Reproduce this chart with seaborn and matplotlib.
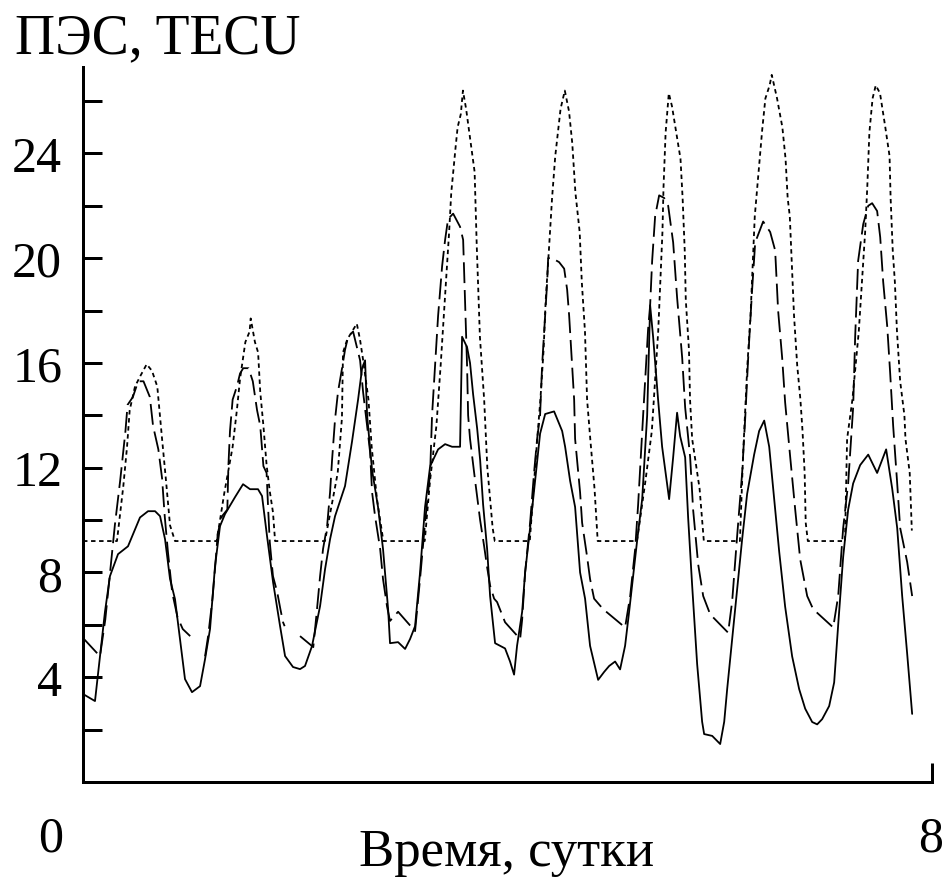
import numpy as np
import pandas as pd
import matplotlib
matplotlib.use("Agg")
import matplotlib.pyplot as plt
import seaborn as sns

# ---------------- data (days, TECU) ----------------
solid_day = [0, 0.113, 0.16, 0.207, 0.254, 0.33, 0.424, 0.537, 0.613, 0.679, 0.726, 0.773, 0.82, 0.867,
             0.914, 0.961, 1.027, 1.103, 1.15, 1.197, 1.244, 1.291, 1.338, 1.433, 1.508, 1.574, 1.649,
             1.687, 1.734, 1.791, 1.857, 1.904, 1.979, 2.045, 2.092, 2.158, 2.234, 2.281, 2.328, 2.375,
             2.469, 2.535, 2.592, 2.63, 2.658, 2.677, 2.724, 2.78, 2.827, 2.875, 2.893, 2.969, 3.035,
             3.082, 3.129, 3.176, 3.223, 3.271, 3.346, 3.412, 3.478, 3.553, 3.572, 3.619, 3.647, 3.676,
             3.714, 3.742, 3.77, 3.808, 3.836, 3.883, 3.977, 4.024, 4.062, 4.09, 4.138, 4.166, 4.213,
             4.26, 4.307, 4.355, 4.439, 4.515, 4.543, 4.59, 4.637, 4.684, 4.731, 4.778, 4.854, 4.91,
             4.958, 5.014, 5.061, 5.108, 5.146, 5.174, 5.221, 5.269, 5.316, 5.344, 5.372, 5.419, 5.457,
             5.523, 5.561, 5.598, 5.627, 5.674, 5.702, 5.74, 5.787, 5.834, 5.853, 5.929, 6.004, 6.042,
             6.07, 6.117, 6.164, 6.211, 6.258, 6.324, 6.371, 6.419, 6.466, 6.513, 6.56, 6.616, 6.682,
             6.748, 6.805, 6.871, 6.918, 6.965, 7.031, 7.078, 7.116, 7.163, 7.21, 7.257, 7.323, 7.399,
             7.483, 7.568, 7.625, 7.672, 7.719, 7.766, 7.813]
solid_tec = [3.36, 3.09, 4.8, 6.5, 7.86, 8.7, 9.0, 10.1, 10.34, 10.34, 10.15, 9.27, 7.75, 6.98,
             5.46, 3.93, 3.43, 3.66, 4.69, 5.84, 8.24, 9.77, 10.23, 10.88, 11.37, 11.18, 11.18,
             10.92, 9.39, 7.63, 5.95, 4.81, 4.39, 4.31, 4.43, 5.19, 6.72, 8.13, 9.27, 10.15,
             11.3, 13.0, 14.6, 15.8, 16.1, 14.0, 11.9, 10.5, 8.9, 6.6, 5.3, 5.34, 5.08,
             5.46, 5.95, 8.0, 10.5, 12.06, 12.7, 12.9, 12.8, 12.8, 17.0, 16.6, 16.0, 14.8,
             13.5, 12.3, 10.6, 8.9, 7.1, 5.3, 5.1, 4.6, 4.1, 5.2, 6.5, 8.0, 9.7,
             11.5, 13.3, 14.05, 14.15, 13.4, 12.8, 11.5, 10.5, 8.0, 7.0, 5.2, 3.9, 4.2,
             4.43, 4.6, 4.3, 5.2, 6.5, 7.5, 9.2, 10.8, 14.0, 18.2, 17.0, 14.6, 12.8,
             10.8, 12.4, 14.1, 13.2, 12.4, 10.1, 7.5, 4.5, 2.3, 1.83, 1.76, 1.45, 2.3,
             3.55, 5.46, 7.37, 9.27, 11.0, 12.5, 13.4, 13.8, 12.8, 10.8, 8.8, 6.7, 4.8,
             3.55, 2.8, 2.29, 2.2, 2.4, 2.9, 3.8, 6.0, 8.6, 10.4, 11.4, 12.1, 12.5,
             11.8, 12.7, 11.2, 9.7, 7.1, 4.9, 2.6]

# long-dashed series (NaN marks a break in the record)
dash_day = [0, 0.16, 0.21, 0.25, 0.30, 0.35, 0.40, 0.42, 0.47, 0.52, 0.57, 0.63, 0.66, 0.71, 0.745,
            0.77, 0.80, 0.84, 0.89, 0.94, 1.01, 1.08,
            1.15, 1.18, 1.22, 1.245, 1.27, 1.31, 1.36, 1.37, 1.385, 1.41, 1.45, 1.48, 1.51, 1.56,
            1.60, 1.64, 1.67, 1.70, 1.73, 1.745, 1.76, 1.79, 1.83, 1.86, 1.885, 1.90, 1.97,
            2.045, 2.17, 2.205, 2.234, 2.262, 2.30, 2.328, 2.347, 2.375, 2.403, 2.441, 2.469, 2.498,
            2.545, 2.611, 2.639, 2.677, 2.705, 2.724, 2.752, 2.80, 2.827, 2.865, 2.893, 2.969, 3.129,
            3.176, 3.223, 3.271, 3.289, 3.318, 3.346, 3.384, 3.412, 3.44, 3.488, 3.553, 3.582, 3.60,
            3.619, 3.629, 3.647, 3.695, 3.742, 3.78, 3.808, 3.836, 3.874, 3.902, 3.977, 4.119, 4.138,
            4.166, 4.213, 4.25, 4.279, 4.307, 4.326, 4.355, 4.374, 4.383, 4.42, 4.486, 4.534, 4.562,
            4.581, 4.59, 4.609, 4.628, 4.637, 4.684, 4.703, 4.75, 4.778, 4.816, 4.901, 5.108, 5.156,
            5.203, 5.231, 5.278, 5.325, 5.344, 5.363, 5.391, 5.429, 5.476, 5.514, 5.561, 5.598, 5.646,
            5.674, 5.721, 5.749, 5.797, 5.844, 5.91, 6.079, 6.117, 6.164, 6.211, 6.24, 6.268, 6.305,
            6.334, 6.409, 6.475, 6.522, 6.55, 6.588, 6.616, 6.664, 6.711, 6.758, 6.824, 6.88, 7.069,
            7.116, 7.163, 7.21, 7.257, 7.276, 7.304, 7.352, 7.399, 7.436, 7.483, 7.512, 7.54, 7.578,
            7.606, 7.634, 7.672, 7.70, 7.766, 7.813]
dash_tec = [5.5, 4.8, 6.2, 7.8, 9.8, 11.5, 13.4, 14.4, 14.7, 15.3, 15.3, 14.7, 13.6, 12.7, 11.6,
            10.15, 8.8, 7.25, 6.3, 5.84, 5.57, np.nan,
            4.8, 5.6, 7.0, 8.2, 9.5, 10.15, 10.4, 12.06, 13.4, 14.6, 15.1, 15.6, 15.8, 15.8,
            15.3, 14.2, 13.6, 12.06, 11.8, 10.4, 9.16, 7.86, 7.25, 6.6, 6.1, 5.95, np.nan,
            5.57, 5.15, 6.6, 7.86, 8.9, 9.77, 11.06, 12.3, 13.85, 14.9, 15.8, 16.5, 17.0,
            17.2, 16.1, 14.9, 13.6, 12.6, 11.06, 10.15, 8.9, 7.75, 6.7, 6.15, 6.5, 5.76,
            7.75, 9.9, 11.8, 14.0, 15.9, 17.8, 19.7, 20.7, 21.5, 21.7, 21.2, 20.7, 18.4,
            15.9, 14.0, 13.1, 11.5, 10.0, 9.0, 8.2, 7.5, 7.0, 6.87, 6.1, 5.46, 6.2,
            8.0, 9.9, 11.8, 13.1, 14.0, 15.9, 17.8, 19.1, 20.0, 20.0, 19.85, 19.6, 18.8,
            17.8, 17.2, 15.9, 14.6, 13.1, 11.06, 9.9, 8.6, 7.75, 7.0, 6.6, 5.9, 7.1,
            8.9, 10.6, 14.0, 17.3, 18.2, 19.9, 21.6, 22.4, 22.3, 22.0, 20.6, 18.5, 16.2,
            14.3, 12.4, 10.4, 8.3, 7.1, 6.4, 5.7, 6.9, 9.4, 11.8, 13.9, 16.2, 18.8,
            20.6, 21.4, 21.0, 20.3, 18.0, 16.2, 14.5, 12.4, 10.4, 8.5, 7.1, 6.6, 5.9,
            7.1, 9.7, 11.4, 14.3, 17.0, 19.9, 21.3, 22.0, 22.1, 21.8, 20.8, 19.1, 17.4,
            15.6, 13.6, 11.4, 9.7, 8.4, 7.1]

# short-dashed (model) series
dot_day = [0.0, 0.32, 0.38, 0.415, 0.44, 0.49, 0.54, 0.60, 0.65, 0.70, 0.745, 0.78, 0.82, 0.867,
           1.26, 1.33, 1.41, 1.45, 1.48, 1.53, 1.57, 1.58, 1.62, 1.65, 1.67, 1.70, 1.73, 1.76, 1.79, 1.81,
           2.28, 2.34, 2.40, 2.44, 2.45, 2.49, 2.52, 2.58, 2.61, 2.64, 2.69, 2.72, 2.77, 2.83,
           3.22, 3.27, 3.33, 3.37, 3.40, 3.43, 3.45, 3.47, 3.51, 3.53, 3.56, 3.58, 3.61, 3.65, 3.69,
           3.71, 3.74, 3.78, 3.81, 3.86, 3.88,
           4.21, 4.28, 4.31, 4.34, 4.36, 4.39, 4.42, 4.45, 4.50, 4.54, 4.58, 4.61, 4.64, 4.68, 4.70,
           4.73, 4.75, 4.78, 4.82, 4.85,
           5.22, 5.30, 5.36, 5.39, 5.42, 5.44, 5.46, 5.47, 5.49, 5.52, 5.55, 5.59, 5.63, 5.65, 5.67,
           5.68, 5.71, 5.72, 5.74, 5.81, 5.85,
           6.19, 6.22, 6.26, 6.29, 6.31, 6.33, 6.37, 6.40, 6.43, 6.47, 6.49, 6.54, 6.59, 6.62, 6.64,
           6.66, 6.68, 6.70, 6.73, 6.76, 6.78, 6.80, 6.81, 6.83,
           7.18, 7.20, 7.25, 7.28, 7.31, 7.34, 7.37, 7.39, 7.41, 7.44, 7.47, 7.51, 7.56, 7.60, 7.61,
           7.63, 7.65, 7.67, 7.70, 7.74, 7.75, 7.79, 7.81]
dot_tec = [9.2, 9.2, 11.3, 12.8, 14.2, 15.1, 15.5, 15.95, 15.7, 15.1, 13.1, 11.6, 9.8, 9.2,
           9.2, 11.0, 12.8, 14.2, 15.4, 16.8, 17.2, 17.7, 16.8, 16.4, 14.9, 13.6, 12.1, 11.1, 10.3, 9.2,
           9.2, 10.5, 11.8, 13.9, 16.4, 16.9, 17.1, 17.5, 16.9, 16.1, 14.6, 12.8, 10.8, 9.2,
           9.2, 11.5, 13.6, 15.9, 17.8, 19.7, 21.0, 22.5, 24.2, 25.0, 25.5, 26.4, 25.7, 24.5, 23.3,
           20.5, 17.0, 14.6, 12.0, 9.7, 9.2,
           9.2, 13.1, 14.6, 16.5, 18.4, 20.3, 22.3, 23.9, 25.7, 26.4, 25.6, 24.4, 22.5, 21.0, 19.1,
           17.2, 14.6, 13.1, 11.2, 9.2,
           9.2, 11.5, 13.4, 15.3, 17.2, 19.1, 21.0, 22.7, 24.8, 26.3, 25.8, 24.8, 23.8, 22.3, 20.3,
           18.4, 16.5, 14.6, 13.1, 11.2, 9.2,
           9.2, 12.5, 15.9, 17.8, 19.7, 21.6, 23.5, 24.9, 26.1, 26.6, 27.0, 26.1, 25.0, 23.8, 22.3,
           21.6, 19.7, 17.8, 15.9, 14.6, 13.4, 11.8, 9.9, 9.2,
           9.2, 13.1, 14.6, 15.9, 17.2, 19.1, 21.0, 22.7, 24.8, 26.1, 26.6, 26.3, 25.0, 23.9, 22.3,
           20.3, 19.1, 17.2, 15.3, 14.0, 13.1, 11.8, 9.6]

y_major = [4, 8, 12, 16, 20, 24]
y_minor = [2, 6, 10, 14, 18, 22, 26]
x_end_labels = ["0", "8"]
title_text = "ПЭС, TECU"
xlabel_text = "Время, сутки"

# ---------------- style ----------------
sns.set_style("white")
plt.rcParams['font.family'] = ['Liberation Serif', 'DejaVu Serif']
plt.rcParams['lines.scale_dashes'] = False
plt.rcParams['text.color'] = 'black'


def frame(day, tec):
    tec = np.asarray(tec, dtype=float)
    seg = np.cumsum(np.isnan(tec))
    return pd.DataFrame({'day': day, 'tec': tec, 'seg': seg})


fig = plt.figure(figsize=(9.44, 8.79), dpi=100)
ax = fig.add_axes([83 / 944, 96 / 879, 849 / 944, 715 / 879])

LW = 1.3
sns.lineplot(data=frame(solid_day, solid_tec), x='day', y='tec', units='seg', estimator=None,
             sort=False, color='black', linewidth=LW, ax=ax)
sns.lineplot(data=frame(dash_day, dash_tec), x='day', y='tec', units='seg', estimator=None,
             sort=False, color='black', linewidth=LW, linestyle=(0, (15, 5)), ax=ax)
sns.lineplot(data=frame(dot_day, dot_tec), x='day', y='tec', units='seg', estimator=None,
             sort=False, color='black', linewidth=LW, linestyle=(0, (3.2, 2.6)), ax=ax)

ax.set_xlim(0, 8)
ax.set_ylim(0, 27.3)
ax.set_xlabel('')
ax.set_ylabel('')
ax.set_yticks(y_major)
ax.set_yticklabels([str(v) for v in y_major])
ax.set_yticks(y_minor, minor=True)
ax.set_xticks([8])
ax.set_xticklabels([''])

tick_len = 19 * 0.72
tick_w = 3 * 0.72
ax.tick_params(axis='y', which='both', direction='in', length=tick_len, width=tick_w,
               color='black', pad=15, labelsize=36, labelcolor='black', left=True)
ax.tick_params(axis='x', which='major', direction='in', length=tick_len, width=tick_w,
               color='black', bottom=True, labelbottom=False)
for side in ['top', 'right']:
    ax.spines[side].set_visible(False)
for side in ['left', 'bottom']:
    ax.spines[side].set_color('black')
    ax.spines[side].set_linewidth(tick_w)

fig.text(15 / 944, 1 - 53 / 879, title_text, fontsize=40, ha='left', va='baseline', color='black')
fig.text(507 / 944, 1 - 866 / 879, xlabel_text, fontsize=38, ha='center', va='baseline', color='black')
fig.text(51 / 944, 1 - 852 / 879, x_end_labels[0], fontsize=36, ha='center', va='baseline', color='black')
fig.text(931 / 944, 1 - 852 / 879, x_end_labels[1], fontsize=36, ha='center', va='baseline', color='black')

fig.savefig('out.png', dpi=100, facecolor='white')
